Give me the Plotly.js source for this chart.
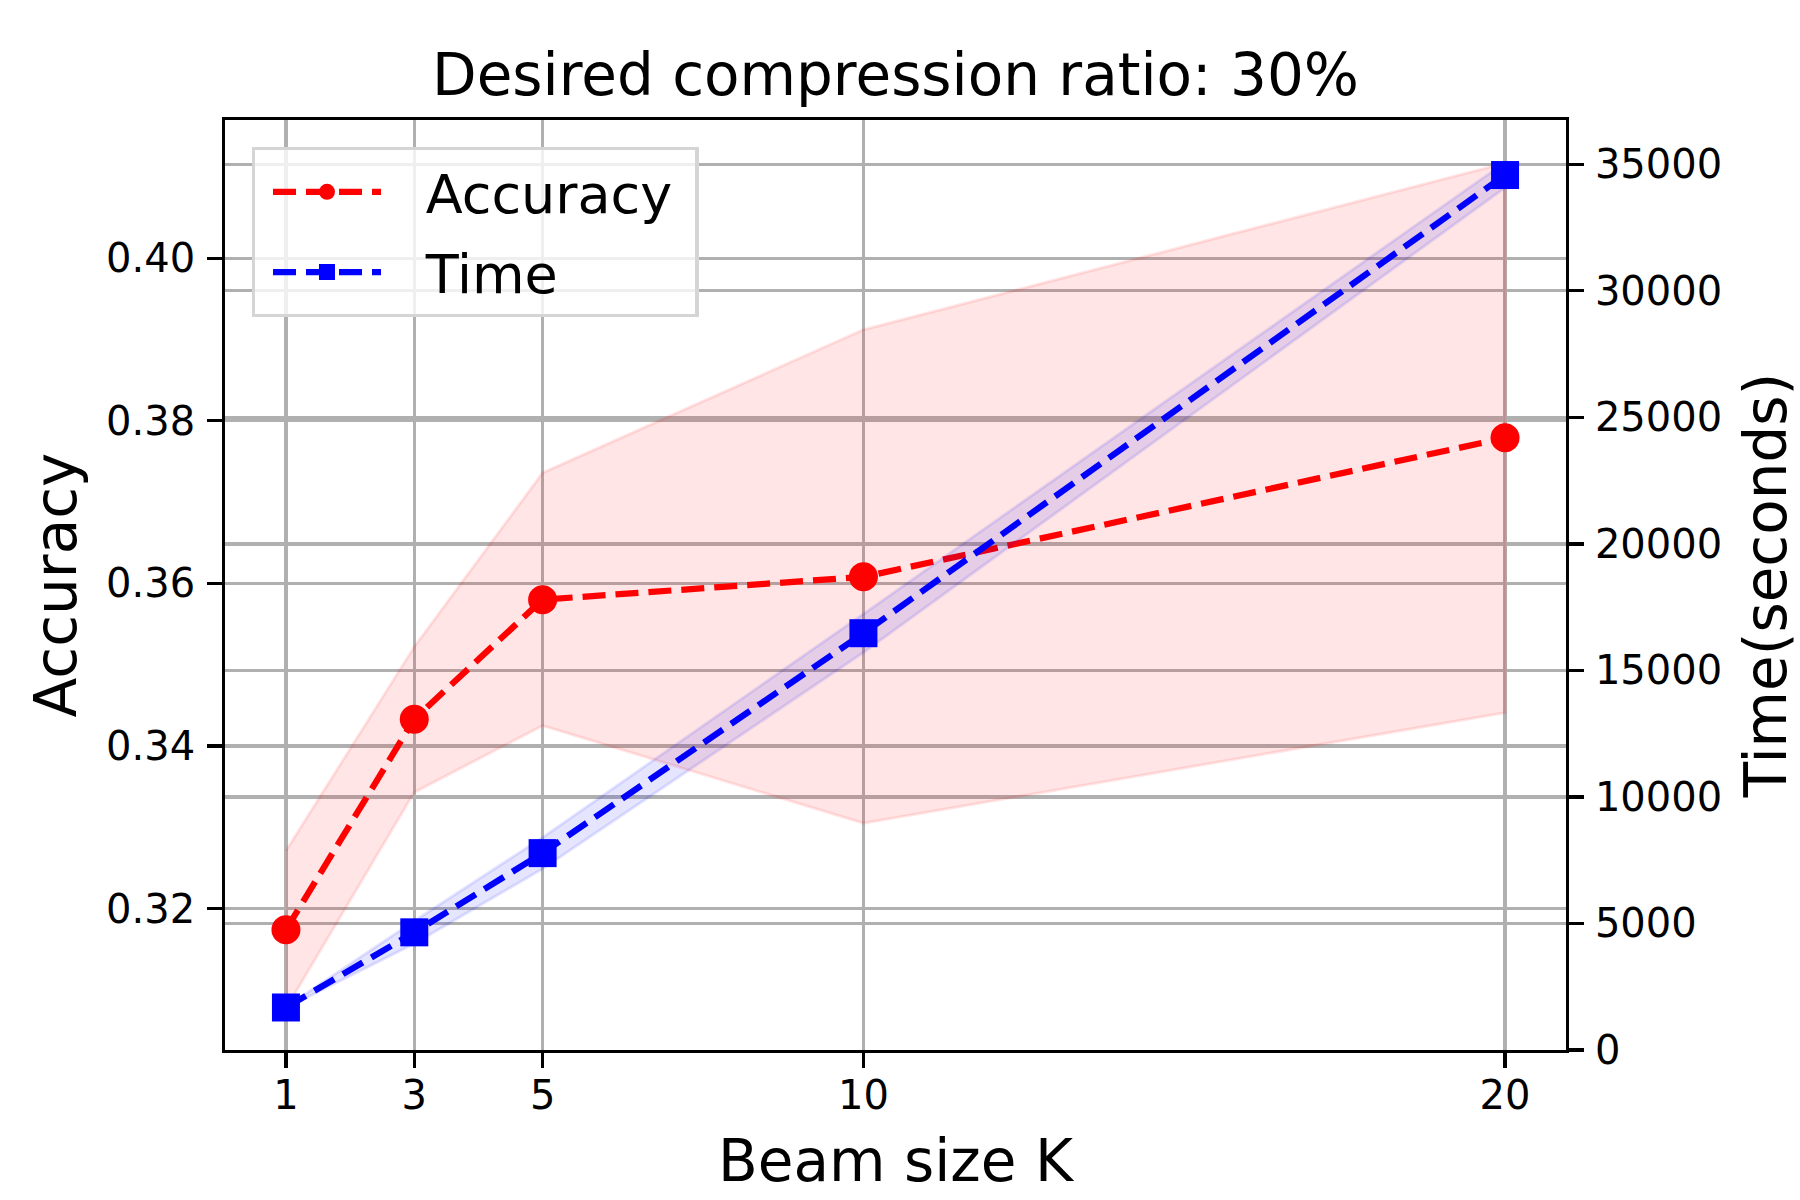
<!DOCTYPE html>
<html>
<head>
<meta charset="utf-8">
<script src="https://cdn.plot.ly/plotly-3.0.1.min.js"></script>
<style>html,body{margin:0;padding:0;background:#fff;}</style>
</head>
<body>
<div id="chart" style="width:1800px;height:1200px;"></div>
<script>
// ---- data ----
const beamSizes = [1, 3, 5, 10, 20];
const xTickLabels = ['1', '3', '5', '10', '20'];

const accuracy      = [0.3174, 0.3433, 0.3580, 0.3608, 0.3779];
const accuracyUpper = [0.3271, 0.3522, 0.3736, 0.3912, 0.4117];
const accuracyLower = [0.3077, 0.3343, 0.3425, 0.3305, 0.3441];

const timeSeconds = [1680, 4650, 7780, 16470, 34575];
const timeUpper   = [1700, 5100, 8400, 17230, 35075];
const timeLower   = [1660, 4200, 7160, 15710, 34075];

const accTicks = [0.32, 0.34, 0.36, 0.38, 0.40];
const accTickLabels = ['0.32', '0.34', '0.36', '0.38', '0.40'];
const timeTicks = [0, 5000, 10000, 15000, 20000, 25000, 30000, 35000];
const timeTickLabels = ['0', '5000', '10000', '15000', '20000', '25000', '30000', '35000'];

const seriesNames = ['Accuracy', 'Time'];

// ---- traces ----
const bandX = beamSizes.concat(beamSizes.slice().reverse());
const padL = '\u00a0\u00a0\u200a';
const padR = '\u00a0';

const accBand = {
  x: bandX,
  y: accuracyUpper.concat(accuracyLower.slice().reverse()),
  type: 'scatter', mode: 'lines', fill: 'toself',
  fillcolor: 'rgba(255,0,0,0.1)',
  line: {color: 'rgba(255,0,0,0.1)', width: 3},
  showlegend: false, hoverinfo: 'skip', xaxis: 'x', yaxis: 'y'
};
const accLine = {
  x: beamSizes, y: accuracy, name: padL + seriesNames[0] + padR, legendgroup: 'a',
  type: 'scatter', mode: 'lines+markers',
  line: {color: 'red', width: 6.25, dash: '23px,10px'},
  marker: {color: 'red', symbol: 'circle', size: 29},
  xaxis: 'x', yaxis: 'y'
};
const timeBand = {
  x: bandX,
  y: timeUpper.concat(timeLower.slice().reverse()),
  type: 'scatter', mode: 'lines', fill: 'toself',
  fillcolor: 'rgba(0,0,255,0.1)',
  line: {color: 'rgba(0,0,255,0.1)', width: 3},
  showlegend: false, hoverinfo: 'skip', xaxis: 'x', yaxis: 'y2'
};
const timeLine = {
  x: beamSizes, y: timeSeconds, name: padL + seriesNames[1], legendgroup: 'b',
  type: 'scatter', mode: 'lines+markers',
  line: {color: 'blue', width: 6.25, dash: '23px,10px'},
  marker: {color: 'blue', symbol: 'square', size: 28},
  xaxis: 'x', yaxis: 'y2'
};

const gridColor = '#b0b0b0';
const axisCommon = {
  ticks: 'outside', ticklen: 14.6, tickwidth: 3.3, tickcolor: 'black',
  showline: true, linewidth: 3.3, linecolor: 'black',
  showgrid: true, gridcolor: gridColor, gridwidth: 3.3,
  zeroline: false, tickfont: {size: 40, color: 'black'}
};

const layout = {
  width: 1800, height: 1200,
  margin: {l: 225, r: 234, t: 120, b: 150, pad: 0},
  paper_bgcolor: 'white', plot_bgcolor: 'white',
  font: {family: 'DejaVu Sans', color: 'black'},
  title: {
    text: 'Desired compression ratio: 30%',
    font: {size: 58, color: 'black'},
    xref: 'paper', x: 0.5, xanchor: 'center',
    yref: 'container', y: 0.9375, yanchor: 'middle'
  },
  xaxis: Object.assign({}, axisCommon, {
    range: [0.05, 20.95], tickmode: 'array', tickvals: beamSizes, ticktext: xTickLabels,
    mirror: true, ticklabelstandoff: -7,
    title: {text: 'Beam size K', font: {size: 58, color: 'black'}, standoff: 24}
  }),
  yaxis: Object.assign({}, axisCommon, {
    range: [0.3026, 0.4170], tickmode: 'array', tickvals: accTicks, ticktext: accTickLabels,
    ticklabelstandoff: 4,
    title: {text: 'Accuracy', font: {size: 58, color: 'black'}, standoff: 11}
  }),
  yaxis2: Object.assign({}, axisCommon, {
    overlaying: 'y', side: 'right', anchor: 'x',
    range: [0, 36750], tickmode: 'array', tickvals: timeTicks, ticktext: timeTickLabels,
    ticklabelstandoff: 3,
    title: {text: 'Time(seconds)', font: {size: 58, color: 'black'}, standoff: 39}
  }),
  legend: {
    x: 0.0199, y: 0.971, xanchor: 'left', yanchor: 'top',
    xref: 'paper', yref: 'paper',
    bgcolor: 'rgba(255,255,255,0.8)', bordercolor: '#d5d5d5', borderwidth: 3.3,
    font: {size: 54, color: 'black'}, itemwidth: 108, indentation: 13,
    tracegroupgap: 7
  },
  showlegend: true
};

Plotly.newPlot('chart', [accBand, accLine, timeBand, timeLine], layout, {displayModeBar: false, staticPlot: true});
</script>
</body>
</html>
